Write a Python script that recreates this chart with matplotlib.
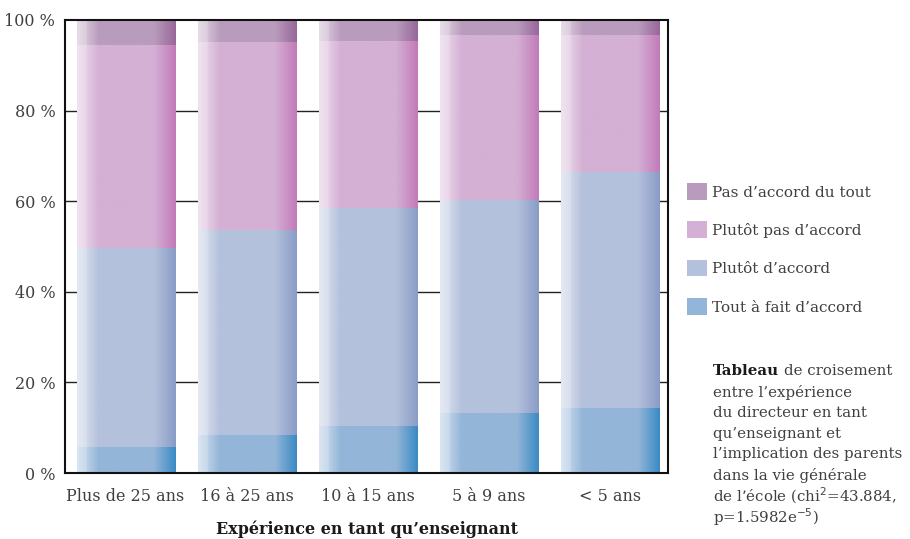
import numpy as np
import matplotlib
matplotlib.use("Agg")
import matplotlib.pyplot as plt
from matplotlib.colors import to_rgb
from matplotlib.patches import Patch

categories = ["Plus de 25 ans", "16 à 25 ans", "10 à 15 ans", "5 à 9 ans", "< 5 ans"]
tout_a_fait = [5.7, 8.4, 10.4, 13.2, 14.3]
plutot_accord = [44.0, 45.2, 48.1, 47.1, 52.1]
plutot_pas = [44.8, 41.5, 36.9, 36.4, 30.3]
pas_du_tout = [5.5, 4.9, 4.6, 3.3, 3.3]

series = [
    ("Tout à fait d’accord", tout_a_fait, "#93b5d8", "#3a8ac4"),
    ("Plutôt d’accord", plutot_accord, "#b4c1dc", "#8a9cc6"),
    ("Plutôt pas d’accord", plutot_pas, "#d4b0d4", "#c27ab9"),
    ("Pas d’accord du tout", pas_du_tout, "#b99cbd", "#98679a"),
]
yticks = [0, 20, 40, 60, 80, 100]
ytick_labels = ["0 %", "20 %", "40 %", "60 %", "80 %", "100 %"]

plt.rcParams["font.family"] = ["DejaVu Serif"]
text_color = "#404040"

fig = plt.figure(figsize=(9.10, 5.39), dpi=100)
ax = fig.add_axes([65 / 910, 66 / 539, 603 / 910, 453 / 539])

width = 0.81
x = np.arange(len(categories))


def gradient_image(base, dark, n=200):
    b = np.array(to_rgb(base))
    d = np.array(to_rgb(dark))
    w = np.ones(3)
    t = np.linspace(0, 1, n)
    img = np.empty((1, n, 3))
    for i, ti in enumerate(t):
        if ti < 0.22:
            # light fade-in on the left edge
            k = ti / 0.22
            if ti < 0.1:
                k *= 0.6
            c = w * (1 - (0.35 + 0.65 * k)) + b * (0.35 + 0.65 * k)
        elif ti > 0.78:
            k = (ti - 0.78) / 0.22
            c = b * (1 - k) + d * k
        else:
            c = b
        img[0, i] = c
    return img


bottom = np.zeros(len(categories))
handles = []
for label, vals, base, dark in series:
    vals = np.array(vals)
    bars = ax.bar(x, vals, width, bottom=bottom, color=base, linewidth=0, zorder=2)
    img = gradient_image(base, dark)
    for rect in bars:
        im = ax.imshow(img, extent=[rect.get_x(), rect.get_x() + rect.get_width(),
                                    rect.get_y(), rect.get_y() + rect.get_height()],
                       aspect="auto", zorder=3, interpolation="bilinear")
        im.set_clip_path(rect)
    bottom += vals
    handles.append(Patch(facecolor=base, label=label))

ax.set_xlim(-0.5, 4.48)
ax.set_ylim(0, 100)
ax.set_yticks(yticks)
ax.set_yticklabels(ytick_labels)
ax.set_xticks(x)
ax.set_xticklabels(categories)
ax.tick_params(length=0, labelsize=11.5, colors=text_color, pad=7)
ax.tick_params(axis="x", pad=11)
for yv in yticks[1:-1]:
    ax.axhline(yv, color="#222222", linewidth=1.0, zorder=1)
for s in ax.spines.values():
    s.set_linewidth(1.5)
    s.set_color("#111111")
    s.set_zorder(4)

ax.set_xlabel("Expérience en tant qu’enseignant", fontsize=11.5, fontweight="bold",
              color="#1a1a1a", labelpad=11)

fig.legend(handles=handles[::-1], loc="upper left", bbox_to_anchor=(681 / 910, 1 - 177 / 539),
           frameon=False, fontsize=11, handlelength=1.3, handleheight=1.3,
           handletextpad=0.35, labelspacing=1.42, labelcolor=text_color, borderaxespad=0)

note_size = 10.8
x0 = 713 / 910
t_bold = fig.text(x0, 1 - 371 / 539, "Tableau", fontsize=note_size, fontweight="bold",
                  color="#1a1a1a", va="center", ha="left")
renderer = fig.canvas.get_renderer()
bb = t_bold.get_window_extent(renderer=renderer)
fig.text((bb.x1 + 5) / 910, 1 - 371 / 539, "de croisement", fontsize=note_size,
         color=text_color, va="center", ha="left")
note_lines = ["entre l’expérience",
              "du directeur en tant",
              "qu’enseignant et",
              "l’implication des parents",
              "dans la vie générale",
              "de l’école (chi$^{2}$=43.884,",
              "p=1.5982e$^{-5}$)"]
for i, line in enumerate(note_lines):
    fig.text(x0, 1 - (392 + 20.8 * i) / 539, line, fontsize=note_size, color=text_color,
             va="center", ha="left")

fig.savefig("out.png", dpi=100)
